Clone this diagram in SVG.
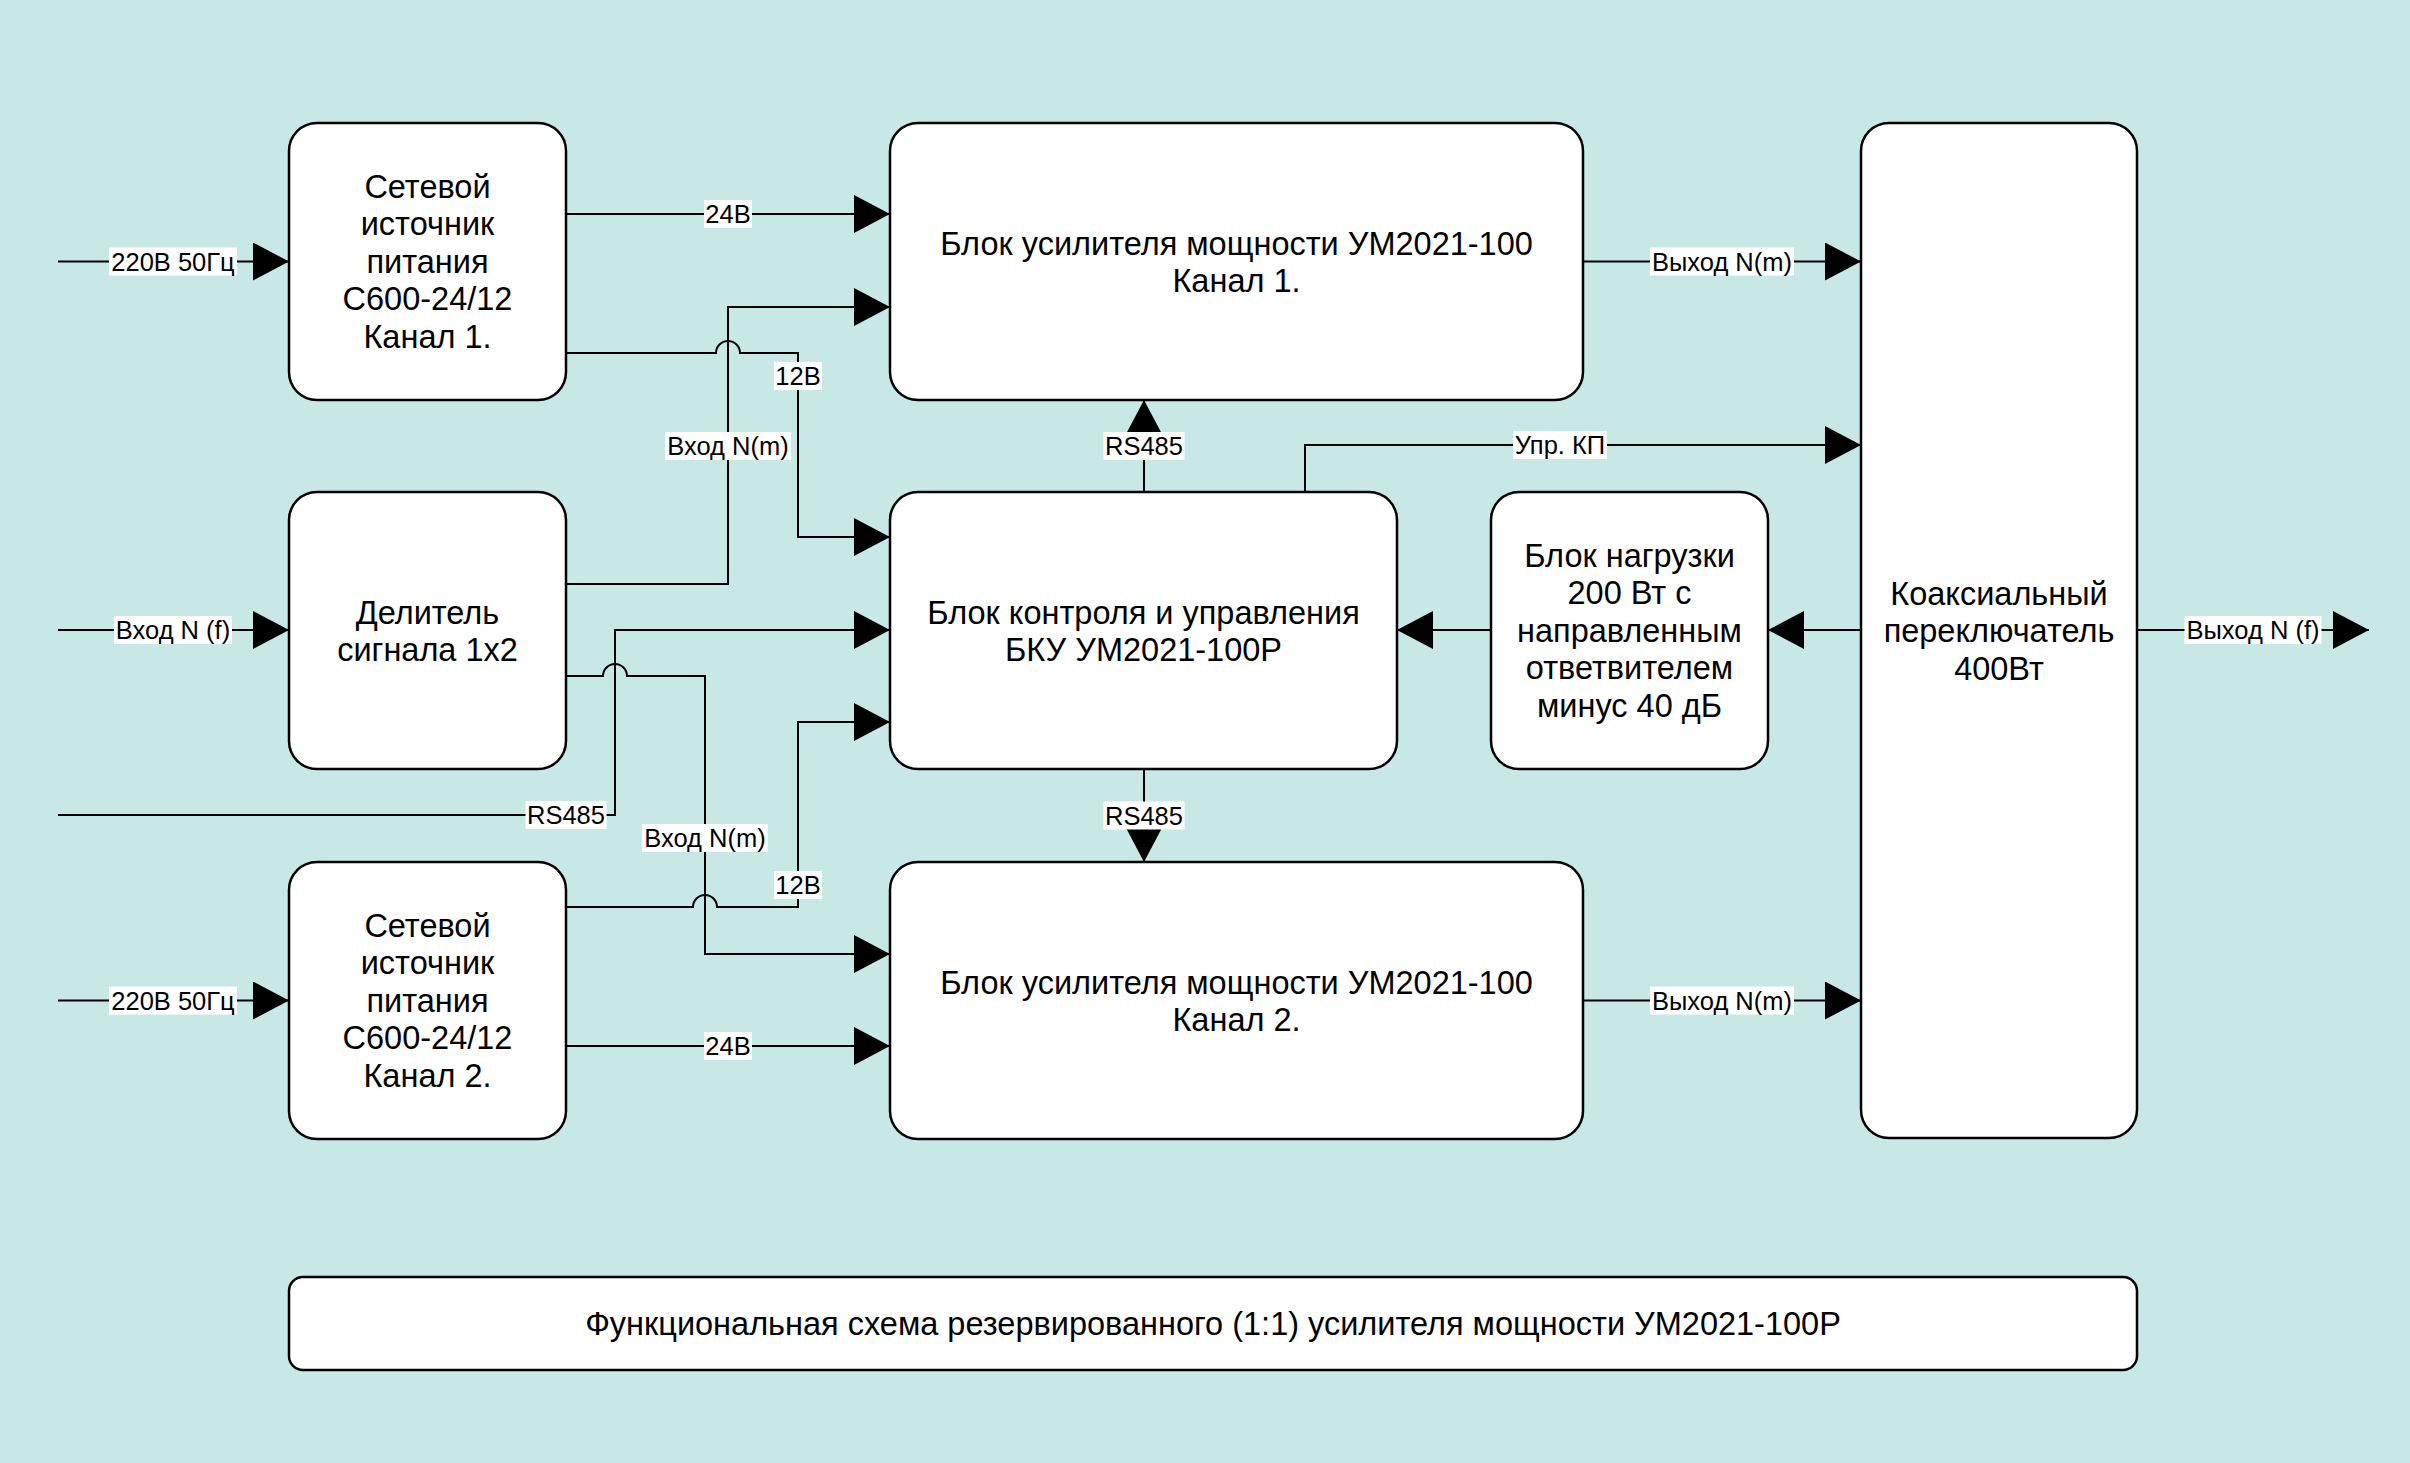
<svg xmlns="http://www.w3.org/2000/svg" width="2410" height="1463" viewBox="0 0 2410 1463">
<style>
.bg{fill:#c7e8e4}
.box{fill:#ffffff;stroke:#000;stroke-width:2.5}
.bt{font-family:"Liberation Sans",Arial,sans-serif;font-size:32.5px;fill:#000;text-anchor:middle}
.ln{fill:none;stroke:#000;stroke-width:2}
.lb rect{fill:#fff}
.lb text{font-family:"Liberation Sans",Arial,sans-serif;font-size:25.5px;fill:#000;text-anchor:middle}
</style>
<defs>
<marker id="ah" markerUnits="userSpaceOnUse" markerWidth="38" markerHeight="40" refX="36" refY="19" orient="auto" viewBox="0 0 38 40">
<path d="M0,0 L36,19 L0,38 Z" fill="#000"/>
</marker>
</defs>
<rect class="bg" x="0" y="0" width="2410" height="1463"/>

<g id="connectors">
<path class="ln" marker-end="url(#ah)" d="M58,261.5 H289"/>
<path class="ln" marker-end="url(#ah)" d="M566,214 H890"/>
<path class="ln" marker-end="url(#ah)" d="M566,353 H716 A12,12 0 0 1 740,353 H798 V537 H890"/>
<path class="ln" marker-end="url(#ah)" d="M566,584 H728 V307 H890"/>
<path class="ln" marker-end="url(#ah)" d="M58,630 H289"/>
<path class="ln" marker-end="url(#ah)" d="M58,815 H615 V630 H890"/>
<path class="ln" marker-end="url(#ah)" d="M566,676 H603 A12,12 0 0 1 627,676 H705 V954 H890"/>
<path class="ln" marker-end="url(#ah)" d="M566,907 H693 A12,12 0 0 1 717,907 H798 V722 H890"/>
<path class="ln" marker-end="url(#ah)" d="M566,1046 H890"/>
<path class="ln" marker-end="url(#ah)" d="M58,1000.5 H289"/>
<path class="ln" marker-end="url(#ah)" d="M1583,261.5 H1861"/>
<path class="ln" marker-end="url(#ah)" d="M1583,1000.5 H1861"/>
<path class="ln" marker-end="url(#ah)" d="M1144,492 V400"/>
<path class="ln" marker-end="url(#ah)" d="M1144,769 V862"/>
<path class="ln" marker-end="url(#ah)" d="M1305,492 V445 H1861"/>
<path class="ln" marker-end="url(#ah)" d="M1861,630 H1768"/>
<path class="ln" marker-end="url(#ah)" d="M1491,630 H1397"/>
<path class="ln" marker-end="url(#ah)" d="M2137,630 H2369"/>

<g class="lb"><rect x="109" y="247.5" width="128" height="28"/><text x="173" y="270.5">220В 50Гц</text></g>
<g class="lb"><rect x="704" y="200" width="48" height="28"/><text x="728" y="223">24В</text></g>
<g class="lb"><rect x="774" y="362" width="48" height="28"/><text x="798" y="385">12В</text></g>
<g class="lb"><rect x="665" y="432" width="126" height="28"/><text x="728" y="455">Вход N(m)</text></g>
<g class="lb"><rect x="114" y="616" width="118" height="28"/><text x="173" y="639">Вход N (f)</text></g>
<g class="lb"><rect x="525.5" y="801" width="81" height="28"/><text x="566" y="824">RS485</text></g>
<g class="lb"><rect x="642" y="824" width="126" height="28"/><text x="705" y="847">Вход N(m)</text></g>
<g class="lb"><rect x="774" y="871" width="48" height="28"/><text x="798" y="894">12В</text></g>
<g class="lb"><rect x="109" y="986.5" width="128" height="28"/><text x="173" y="1009.5">220В 50Гц</text></g>
<g class="lb"><rect x="704" y="1032" width="48" height="28"/><text x="728" y="1055">24В</text></g>
<g class="lb"><rect x="1650" y="247.5" width="144" height="28"/><text x="1722" y="270.5">Выход N(m)</text></g>
<g class="lb"><rect x="1650" y="986.5" width="144" height="28"/><text x="1722" y="1009.5">Выход N(m)</text></g>
<g class="lb"><rect x="1103.5" y="432" width="81" height="28"/><text x="1144" y="455">RS485</text></g>
<g class="lb"><rect x="1103.5" y="801.5" width="81" height="28"/><text x="1144" y="824.5">RS485</text></g>
<g class="lb"><rect x="1513" y="431" width="94" height="28"/><text x="1560" y="454">Упр. КП</text></g>
<g class="lb"><rect x="2184.5" y="616" width="137" height="28"/><text x="2253" y="639">Выход N (f)</text></g>
</g>

<g id="ps1">
<rect class="box" x="289" y="123" width="277" height="277" rx="28"/>
<text class="bt" x="427.5" y="197.5">Сетевой</text>
<text class="bt" x="427.5" y="235">источник</text>
<text class="bt" x="427.5" y="272.5">питания</text>
<text class="bt" x="427.5" y="310">С600-24/12</text>
<text class="bt" x="427.5" y="347.5">Канал 1.</text>
</g>
<g id="amp1">
<rect class="box" x="890" y="123" width="693" height="277" rx="28"/>
<text class="bt" x="1236.5" y="254.5">Блок усилителя мощности УМ2021-100</text>
<text class="bt" x="1236.5" y="292">Канал 1.</text>
</g>
<g id="coax">
<rect class="box" x="1861" y="123" width="276" height="1015" rx="28"/>
<text class="bt" x="1999" y="604.5">Коаксиальный</text>
<text class="bt" x="1999" y="642">переключатель</text>
<text class="bt" x="1999" y="679.5">400Вт</text>
</g>
<g id="divider">
<rect class="box" x="289" y="492" width="277" height="277" rx="28"/>
<text class="bt" x="427.5" y="623.5">Делитель</text>
<text class="bt" x="427.5" y="661">сигнала 1x2</text>
</g>
<g id="bku">
<rect class="box" x="890" y="492" width="507" height="277" rx="28"/>
<text class="bt" x="1143.5" y="623.5">Блок контроля и управления</text>
<text class="bt" x="1143.5" y="661">БКУ УМ2021-100Р</text>
</g>
<g id="load">
<rect class="box" x="1491" y="492" width="277" height="277" rx="28"/>
<text class="bt" x="1629.5" y="566.5">Блок нагрузки</text>
<text class="bt" x="1629.5" y="604">200 Вт с</text>
<text class="bt" x="1629.5" y="641.5">направленным</text>
<text class="bt" x="1629.5" y="679">ответвителем</text>
<text class="bt" x="1629.5" y="716.5">минус 40 дБ</text>
</g>
<g id="ps2">
<rect class="box" x="289" y="862" width="277" height="277" rx="28"/>
<text class="bt" x="427.5" y="936.5">Сетевой</text>
<text class="bt" x="427.5" y="974">источник</text>
<text class="bt" x="427.5" y="1011.5">питания</text>
<text class="bt" x="427.5" y="1049">С600-24/12</text>
<text class="bt" x="427.5" y="1086.5">Канал 2.</text>
</g>
<g id="amp2">
<rect class="box" x="890" y="862" width="693" height="277" rx="28"/>
<text class="bt" x="1236.5" y="993.5">Блок усилителя мощности УМ2021-100</text>
<text class="bt" x="1236.5" y="1031">Канал 2.</text>
</g>
<g id="title">
<rect class="box" x="289" y="1277" width="1848" height="93" rx="14"/>
<text class="bt" x="1213" y="1335">Функциональная схема резервированного (1:1) усилителя мощности УМ2021-100Р</text>
</g>
</svg>
